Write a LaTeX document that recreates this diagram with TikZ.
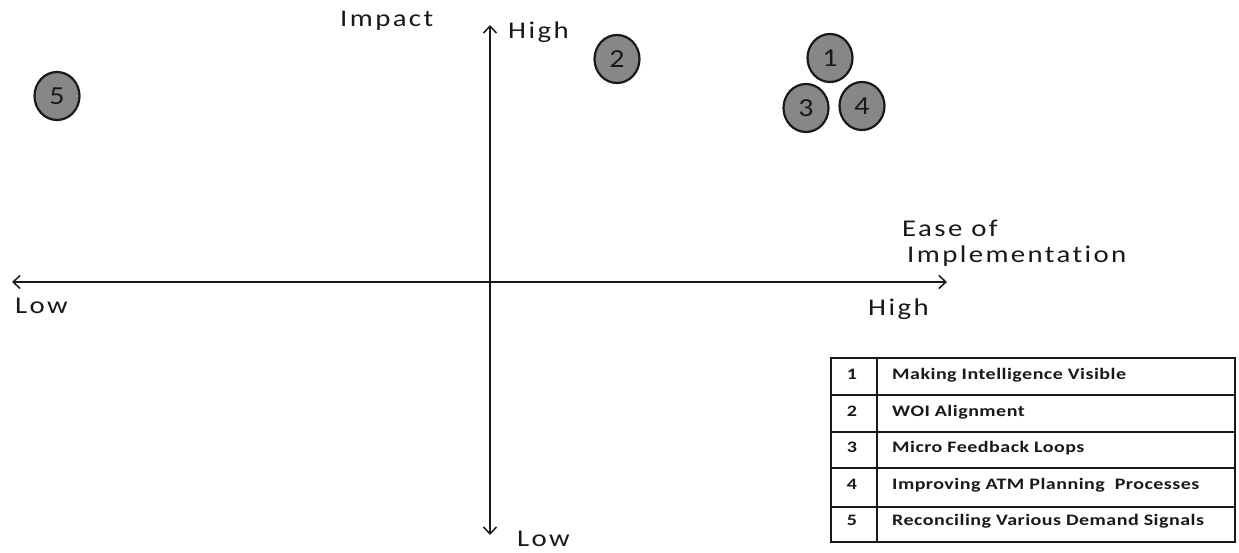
\documentclass[tikz,border=0pt]{standalone}
\usepackage{fontspec}
\setmainfont{Carlito}
\newfontfamily\axisfont[FakeStretch=1.2,LetterSpace=10,Ligatures=NoCommon]{Carlito}
\newfontfamily\numfont[FakeStretch=1.15,Ligatures=NoCommon]{Carlito}
\newfontfamily\tabfont[FakeStretch=1.25,LetterSpace=3,Ligatures=NoCommon]{Carlito}
\usetikzlibrary{arrows.meta,shapes.geometric}
\definecolor{dotgray}{RGB}{135,135,135}
\definecolor{ink}{RGB}{25,25,25}
\tikzset{
  axis/.style={draw=ink,line width=1.8pt,{Straight Barb[length=7pt,width=13pt,line width=1.5pt]}-{Straight Barb[length=7pt,width=13pt,line width=1.5pt]}},
  lbl/.style={inner sep=0pt,anchor=base west,text=ink,font=\axisfont\fontsize{24}{28}\selectfont},
  dot/.style={ellipse,draw=ink,line width=2.2pt,fill=dotgray,minimum width=45pt,minimum height=48pt,inner sep=0pt,text=ink,font=\numfont\fontsize{26}{30}\selectfont},
  tabnum/.style={inner sep=0pt,anchor=base,text=ink,font=\tabfont\bfseries\fontsize{16}{18}\selectfont},
  tabtxt/.style={inner sep=0pt,anchor=base west,text=ink,font=\tabfont\bfseries\fontsize{16}{18}\selectfont},
  tabline/.style={draw=ink,line width=1.3pt}
}
\begin{document}
\begin{tikzpicture}[x=1pt,y=-1pt]
\useasboundingbox (0,0) rectangle (1239,552);
% axes
\coordinate (xl) at (12,282);
\coordinate (xr) at (947,282);
\coordinate (yt) at (490,25);
\coordinate (yb) at (490,535);
\draw[axis] (xl) -- (xr);
\draw[axis] (yb) -- (yt);
% axis labels
\node[lbl] (impact) at (340,26) {Impact};
\node[lbl] (hightop) at (508,38) {High};
\node[lbl] (lowbot) at (517,546) {Low};
\node[lbl] (lowleft) at (15,313) {Low};
\node[lbl] (highright) at (868,315) {High};
\node[lbl] (ease) at (902,236) {Ease of};
\node[lbl] (impl) at (907,262) {Implementation};
% dots
\node[dot] (c5) at (57,96) {5};
\node[dot] (c2) at (617,59) {2};
\node[dot] (c1) at (830,58) {1};
\node[dot] (c3) at (806,108) {3};
\node[dot] (c4) at (862,106) {4};
% table
\draw[tabline] (831,358) rectangle (1235,542);
\foreach \y in {395,432,468,507} \draw[tabline] (831,\y) -- (1235,\y);
\draw[draw=ink,line width=2pt] (877,358) -- (877,542);
\node[tabnum] (n1) at (852,379) {1};
\node[tabnum] (n2) at (852,416) {2};
\node[tabnum] (n3) at (852,452) {3};
\node[tabnum] (n4) at (852,489) {4};
\node[tabnum] (n5) at (852,525) {5};
\node[tabtxt] (t1) at (892,379) {Making Intelligence Visible};
\node[tabtxt] (t2) at (892,416) {WOI Alignment};
\node[tabtxt] (t3) at (892,452) {Micro Feedback Loops};
\node[tabtxt] (t4) at (892,489) {Improving ATM Planning\ \ Processes};
\node[tabtxt] (t5) at (892,525) {Reconciling Various Demand Signals};
\end{tikzpicture}
\end{document}
